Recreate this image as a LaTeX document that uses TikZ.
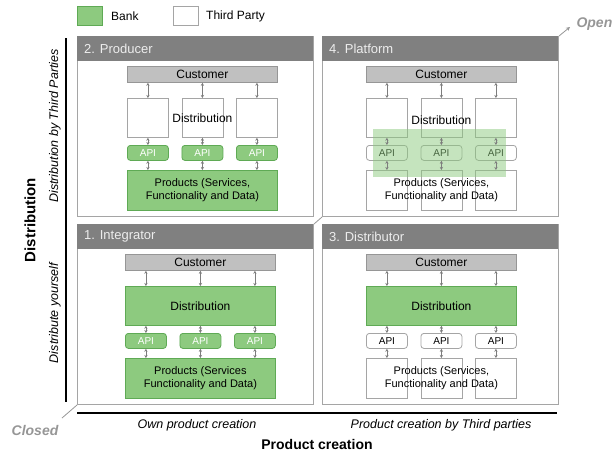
\documentclass[tikz,border=0pt]{standalone}
\usepackage{fontspec}
\setmainfont{Liberation Sans}
\usetikzlibrary{arrows.meta,calc}
\definecolor{bankgreen}{RGB}{141,202,127}
\definecolor{bankedge}{RGB}{95,170,85}
\definecolor{hdrgray}{RGB}{128,128,128}
\definecolor{edgegray}{RGB}{165,165,165}
\definecolor{custgray}{RGB}{192,192,192}
\definecolor{custedge}{RGB}{150,150,150}
\definecolor{arrgray}{RGB}{125,125,125}
\definecolor{axisgray}{RGB}{150,150,150}
\newcommand\fsz[2]{\fontsize{#1}{#2}\selectfont}
\tikzset{
  panel/.style={draw=edgegray, line width=1pt, fill=white, minimum width=236pt, minimum height=180pt, anchor=north west, inner sep=0pt},
  hdr/.style={fill=hdrgray, minimum width=236pt, minimum height=25pt, anchor=north west, inner sep=0pt},
  ptitle/.style={text=white!93!black, font=\fsz{13}{15}, anchor=west, inner sep=0pt},
  cbox/.style={draw=custedge, fill=custgray, line width=0.8pt, minimum width=150pt, minimum height=16pt, anchor=north west, inner sep=0pt, font=\fsz{12}{14}},
  gbox/.style={draw=bankedge, fill=bankgreen, anchor=north west, inner sep=0pt, line width=0.8pt},
  wbox/.style={draw=edgegray, fill=white, anchor=north west, inner sep=0pt, line width=0.8pt},
  dcol/.style={minimum width=41pt, minimum height=39pt},
  dwide/.style={minimum width=150pt, minimum height=39pt, font=\fsz{12}{14}},
  apib/.style={minimum width=41pt, minimum height=15pt, rounded corners=3pt, font=\fsz{10}{12}},
  pcol/.style={minimum width=41pt, minimum height=40pt},
  pwide/.style={minimum width=150pt, minimum height=40pt, font=\fsz{11}{13}, align=center},
  ptext/.style={font=\fsz{11}{13}, align=center, inner sep=0pt},
  dtext/.style={font=\fsz{12}{14}, inner sep=0pt},
  link/.style={draw=arrgray, line width=0.8pt, {Stealth[length=3pt,width=3.2pt]}-{Stealth[length=3pt,width=3.2pt]}},
  axlbl/.style={font=\fsz{12.5}{15}\itshape},
}
\begin{document}
\begin{tikzpicture}[x=1pt,y=-1pt]
\useasboundingbox (0,0) rectangle (612,456);

% legend
\node[gbox, minimum width=25pt, minimum height=19pt] (lgB) at (77,6) {};
\node[anchor=west, font=\fsz{12}{14}, inner sep=0pt] (lgBt) at (111,16) {Bank};
\node[wbox, minimum width=25pt, minimum height=19pt] (lgT) at (173,6) {};
\node[anchor=west, font=\fsz{12}{14}, inner sep=0pt] (lgTt) at (206,16) {Third Party};

% ---------- Panel 2: Producer ----------
\begin{scope}[shift={(77,36)}]
\node[panel] (P2) at (0,0) {};
\node[hdr] (P2h) at (0,0) {};
\node[ptitle] (P2t) at (7,12.5) {2. Producer};
\node[cbox] (P2c) at (50,30) {Customer};
\foreach \i/\xx in {1/50,2/104.5,3/159} {
  \node[wbox,dcol] (P2d\i) at (\xx,62) {};
  \node[gbox,apib,text=white] (P2a\i) at (\xx,109) {API};
}
\node[gbox,pwide] (P2p) at (50,134) {Products (Services,\\Functionality and Data)};
\node[dtext] (P2dt) at (P2d2.center) {Distribution};
\foreach \i in {1,2,3} {
  \draw[link] (P2c.south -| P2d\i) -- (P2d\i.north);
  \draw[link] (P2d\i) -- (P2a\i);
  \draw[link] (P2a\i) -- (P2p.north -| P2a\i);
}
\end{scope}

% ---------- Panel 4: Platform ----------
\begin{scope}[shift={(322,36)}]
\node[panel] (P4) at (0,0) {};
\node[hdr] (P4h) at (0,0) {};
\node[ptitle] (P4t) at (7,12.5) {4. Platform};
\node[cbox] (P4c) at (44,30) {Customer};
\foreach \i/\xx in {1/44,2/98.5,3/153} {
  \node[wbox,dcol] (P4d\i) at (\xx,62) {};
  \node[wbox,apib] (P4a\i) at (\xx,109) {API};
  \node[wbox,pcol] (P4p\i) at (\xx,134) {};
}
\node[fill=bankgreen, fill opacity=0.5, minimum width=133pt, minimum height=48pt, anchor=north west, inner sep=0pt] (P4g) at (51,93) {};
\foreach \i in {1,2,3} {
  \draw[link] (P4c.south -| P4d\i) -- (P4d\i.north);
  \draw[link] (P4d\i) -- (P4a\i);
  \draw[link] (P4a\i) -- (P4p\i);
}
\node[dtext] (P4dt) at ($(P4d2.center)+(0,2)$) {Distribution};
\node[ptext] (P4pt) at (P4p2.center) {Products (Services,\\Functionality and Data)};
\end{scope}

% ---------- Panel 1: Integrator ----------
\begin{scope}[shift={(77,224)}]
\node[panel] (P1) at (0,0) {};
\node[hdr] (P1h) at (0,0) {};
\node[ptitle] (P1t) at (7,12.5) {1. Integrator};
\node[cbox] (P1c) at (48,30) {Customer};
\node[gbox,dwide] (P1d) at (48,62) {Distribution};
\foreach \i/\xx in {1/48,2/102.5,3/157} {
  \node[gbox,apib,text=white] (P1a\i) at (\xx,109) {API};
}
\node[gbox,pwide] (P1p) at (48,134) {Products (Services\\Functionality and Data)};
\foreach \i in {1,2,3} {
  \draw[link] (P1c.south -| P1a\i) -- (P1d.north -| P1a\i);
  \draw[link] (P1d.south -| P1a\i) -- (P1a\i.north);
  \draw[link] (P1a\i) -- (P1p.north -| P1a\i);
}
\end{scope}

% ---------- Panel 3: Distributor ----------
\begin{scope}[shift={(322,224)}]
\node[panel] (P3) at (0,0) {};
\node[hdr] (P3h) at (0,0) {};
\node[ptitle] (P3t) at (7,12.5) {3. Distributor};
\node[cbox] (P3c) at (44,30) {Customer};
\node[gbox,dwide] (P3d) at (44,62) {Distribution};
\foreach \i/\xx in {1/44,2/98.5,3/153} {
  \node[wbox,apib] (P3a\i) at (\xx,109) {API};
  \node[wbox,pcol] (P3p\i) at (\xx,134) {};
}
\foreach \i in {1,2,3} {
  \draw[link] (P3c.south -| P3a\i) -- (P3d.north -| P3a\i);
  \draw[link] (P3d.south -| P3a\i) -- (P3a\i.north);
  \draw[link] (P3a\i) -- (P3p\i);
}
\node[ptext] (P3pt) at (P3p2.center) {Products (Services,\\Functionality and Data)};
\end{scope}

% ---------- axes ----------
\coordinate (vtop) at (66,38);
\coordinate (vbot) at (66,402);
\coordinate (hl) at (77,413);
\coordinate (hr) at (557,413);
\draw[line width=2pt] (vtop) -- (vbot);
\draw[line width=2pt] (hl) -- (hr);

\node[axlbl, rotate=90] (dtp) at (55,126) {Distribution by Third Parties};
\node[axlbl, rotate=90] (dys) at (55,313) {Distribute yourself};
\node[font=\fsz{15}{18}\bfseries, rotate=90] (dax) at (30,220) {Distribution};
\node[axlbl] (opc) at (197,425) {Own product creation};
\node[axlbl] (pct) at (441,425) {Product creation by Third parties};
\node[font=\fsz{14}{17}\bfseries] (pax) at (317,444) {Product creation};

\node[font=\fsz{14}{17}\bfseries\itshape, text=axisgray] (cls) at (35,430) {Closed};
\node[font=\fsz{14}{17}\bfseries\itshape, text=axisgray, anchor=west] (opn) at (573,24) {Open};

\draw[axisgray, line width=0.8pt] (P1.south west) -- ++(-15,13);
\draw[axisgray, line width=0.8pt] (P1.north east) -- (P4.south west);
\draw[axisgray, line width=0.8pt, -{Stealth[length=4pt,width=4pt]}] (P4.north east) -- ++(11,-9);
\end{tikzpicture}
\end{document}
